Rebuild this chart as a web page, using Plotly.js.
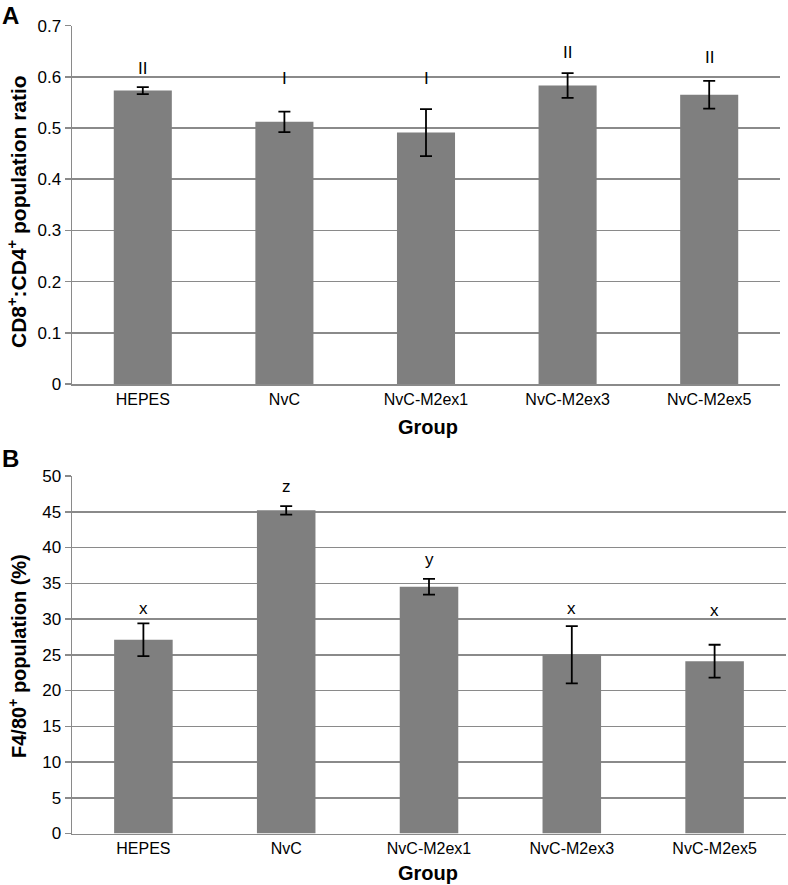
<!DOCTYPE html>
<html>
<head>
<meta charset="utf-8">
<script src="https://cdn.plot.ly/plotly-3.0.1.min.js"></script>
<style>
html,body{margin:0;padding:0;background:#fff;}
#chart{width:788px;height:885px;}
</style>
</head>
<body>
<div id="chart"></div>
<script>
// ---- data ----
const groups = ["HEPES", "NvC", "NvC-M2ex1", "NvC-M2ex3", "NvC-M2ex5"];

// Panel A: CD8+:CD4+ population ratio
const ratioA = [0.573, 0.512, 0.491, 0.583, 0.565];
const errA   = [0.007, 0.020, 0.046, 0.024, 0.027];
const lettersA = ["II", "I", "I", "II", "II"];
const letterYA = [0.617, 0.596, 0.596, 0.648, 0.637];

// Panel B: F4/80+ population (%)
const pctB = [27.1, 45.2, 34.5, 25.0, 24.1];
const errB = [2.3, 0.6, 1.1, 4.0, 2.3];
const lettersB = ["x", "z", "y", "x", "x"];
const letterYB = [31.4, 48.5, 38.3, 31.4, 31.2];

const yTicksA = [0, 0.1, 0.2, 0.3, 0.4, 0.5, 0.6, 0.7];
const yTickTextA = ["0", "0.1", "0.2", "0.3", "0.4", "0.5", "0.6", "0.7"];
const yTicksB = [0, 5, 10, 15, 20, 25, 30, 35, 40, 45, 50];

// ---- styling ----
const FONT = "Liberation Sans, Arial, sans-serif";
const barColor = "#7f7f7f";
const gridColor = "#8a8a8a";

const traces = [
  {
    type: "bar", x: groups, y: ratioA, xaxis: "x", yaxis: "y",
    marker: {color: barColor, line: {width: 0}},
    error_y: {type: "data", array: errA, visible: true, color: "#000", thickness: 1.8, width: 6},
    hoverinfo: "none", showlegend: false
  },
  {
    type: "bar", x: groups, y: pctB, xaxis: "x2", yaxis: "y2",
    marker: {color: barColor, line: {width: 0}},
    error_y: {type: "data", array: errB, visible: true, color: "#000", thickness: 1.8, width: 6},
    hoverinfo: "none", showlegend: false
  }
];

const H = 885, L = 72, R = 2, W = 788;
const pw = W - L - R;
const py = px => 1 - px / H;          // pixel row -> paper y
const pxX = px => (px - L) / pw;      // pixel col -> paper x

const annotations = [];
groups.forEach((g, i) => {
  annotations.push({x: g, y: letterYA[i], xref: "x", yref: "y", text: lettersA[i],
    showarrow: false, yanchor: "middle", font: {family: FONT, size: 17, color: "#000"}});
  annotations.push({x: g, y: letterYB[i], xref: "x2", yref: "y2", text: lettersB[i],
    showarrow: false, yanchor: "middle", font: {family: FONT, size: 17, color: "#000"}});
});
// panel letters
annotations.push({xref: "paper", yref: "paper", x: pxX(0), y: py(0), xanchor: "left", yanchor: "top",
  text: "<b>A</b>", showarrow: false, font: {family: FONT, size: 24, color: "#000"}});
annotations.push({xref: "paper", yref: "paper", x: pxX(0), y: py(443), xanchor: "left", yanchor: "top",
  text: "<b>B</b>", showarrow: false, font: {family: FONT, size: 24, color: "#000"}});
// y axis titles
annotations.push({xref: "paper", yref: "paper", x: pxX(17), y: py(212), textangle: -90,
  xanchor: "center", yanchor: "middle", showarrow: false,
  text: "<b>CD8<sup>+</sup>:CD4<sup>+</sup> population ratio</b>", font: {family: FONT, size: 21, color: "#000"}});
annotations.push({xref: "paper", yref: "paper", x: pxX(17), y: py(656), textangle: -90,
  xanchor: "center", yanchor: "middle", showarrow: false,
  text: "<b>F4/80<sup>+</sup> population (%)</b>", font: {family: FONT, size: 20, color: "#000"}});
// x axis titles
annotations.push({xref: "paper", yref: "paper", x: pxX(428), y: py(427), xanchor: "center", yanchor: "middle",
  showarrow: false, text: "<b>Group</b>", font: {family: FONT, size: 20, color: "#000"}});
annotations.push({xref: "paper", yref: "paper", x: pxX(428), y: py(873), xanchor: "center", yanchor: "middle",
  showarrow: false, text: "<b>Group</b>", font: {family: FONT, size: 20, color: "#000"}});

const yCommon = {
  showgrid: true, gridcolor: gridColor, gridwidth: 1.5,
  showline: true, linecolor: gridColor, linewidth: 1.5,
  ticks: "outside", ticklen: 6, tickcolor: gridColor, tickwidth: 1.5,
  tickfont: {family: FONT, size: 17, color: "#000"},
  zeroline: false, fixedrange: true
};
const xCommon = {
  showgrid: false, showline: true, linecolor: gridColor, linewidth: 1.5,
  ticks: "", tickfont: {family: FONT, size: 16, color: "#000"},
  range: [-0.5, 4.5], fixedrange: true
};

const layout = {
  width: W, height: H,
  margin: {l: L, r: R, t: 0, b: 0},
  paper_bgcolor: "#fff", plot_bgcolor: "#fff",
  bargap: 0.59,
  xaxis: Object.assign({}, xCommon, {domain: [0, (780 - L) / pw], anchor: "y"}),
  yaxis: Object.assign({}, yCommon, {domain: [py(384), py(25.6)], range: [0, 0.7],
    tickvals: yTicksA, ticktext: yTickTextA, anchor: "x"}),
  xaxis2: Object.assign({}, xCommon, {domain: [0, 1], anchor: "y2"}),
  yaxis2: Object.assign({}, yCommon, {domain: [py(833.5), py(476)], range: [0, 50],
    tickvals: yTicksB, anchor: "x2"}),
  annotations: annotations
};

Plotly.newPlot("chart", traces, layout, {displayModeBar: false, staticPlot: true});
</script>
</body>
</html>
